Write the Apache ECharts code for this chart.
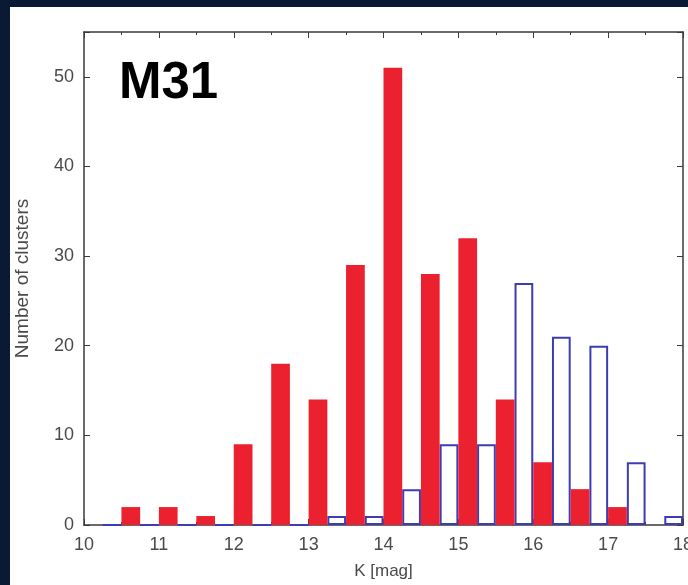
<!DOCTYPE html>
<html>
<head>
<meta charset="utf-8">
<script src="https://cdn.jsdelivr.net/npm/echarts@6/dist/echarts.min.js"></script>
<style>
  html, body { margin: 0; padding: 0; }
  body {
    width: 688px;
    height: 585px;
    overflow: hidden;
    background: #0a1a35;
    position: relative;
  }
  .panel {
    position: absolute;
    left: 10px;
    top: 7px;
    right: 0;
    bottom: 0;
    background: #ffffff;
  }
  #hist {
    position: absolute;
    left: 0;
    top: 0;
    width: 688px;
    height: 585px;
  }
</style>
</head>
<body>
<div class="panel"></div>
<div id="hist"></div>
<script>
// K-band slots of 0.25 mag, 10.00 .. 17.75
const kSlots = [
  "10.00", "10.25", "10.50", "10.75", "11.00", "11.25", "11.50", "11.75",
  "12.00", "12.25", "12.50", "12.75", "13.00", "13.25", "13.50", "13.75",
  "14.00", "14.25", "14.50", "14.75", "15.00", "15.25", "15.50", "15.75",
  "16.00", "16.25", "16.50", "16.75", "17.00", "17.25", "17.50", "17.75"
];
// filled red histogram
const redCounts = [
  "-", "-", 2, "-", 2, "-", 1, "-",
  9, "-", 18, "-", 14, "-", 29, "-",
  51, "-", 28, "-", 32, "-", 14, "-",
  7, "-", 4, "-", 2, "-", "-", "-"
];
// open blue histogram
const blueCounts = [
  "-", 0, "-", 0, "-", 0, "-", 0,
  "-", 0, "-", 0, "-", 1, "-", 1,
  "-", 4, "-", 9, "-", 9, "-", 27,
  "-", 21, "-", 20, "-", 7, "-", 1
];
const kRange = [10, 18];
const countRange = [0, 55];

const FONT = "'Liberation Sans', Arial, Helvetica, sans-serif";
const frameColor = "#3a3a3a";
const labelColor = "#4a4a4a";

const chart = echarts.init(document.getElementById("hist"));

const frameX = (pos, showLabel) => ({
  type: "value",
  position: pos,
  min: kRange[0],
  max: kRange[1],
  interval: 1,
  axisLine: { show: true, onZero: false, lineStyle: { color: frameColor, width: 1.5 } },
  axisTick: { show: true, inside: true, length: 6, lineStyle: { color: frameColor } },
  minorTick: { show: true, splitNumber: 2, length: 3, lineStyle: { color: frameColor } },
  splitLine: { show: false },
  axisLabel: {
    show: showLabel,
    margin: 11,
    fontSize: 18,
    color: labelColor,
    fontFamily: FONT
  }
});

const frameY = (pos, showLabel) => ({
  type: "value",
  position: pos,
  min: countRange[0],
  max: countRange[1],
  interval: 10,
  axisLine: { show: true, lineStyle: { color: frameColor, width: 1.5 } },
  axisTick: { show: true, inside: true, length: 6, lineStyle: { color: frameColor } },
  splitLine: { show: false },
  axisLabel: {
    show: showLabel,
    margin: 10,
    fontSize: 18,
    color: labelColor,
    fontFamily: FONT,
    formatter: (v) => (v % 10 === 0 ? String(v) : "")
  }
});

const xBottom = frameX("bottom", true);
xBottom.name = "K [mag]";
xBottom.nameLocation = "middle";
xBottom.nameGap = 38;
xBottom.nameTextStyle = { fontSize: 17, color: labelColor, fontFamily: FONT };

const yLeft = frameY("left", true);
yLeft.name = "Number of clusters";
yLeft.nameLocation = "middle";
yLeft.nameGap = 52;
yLeft.nameTextStyle = { fontSize: 19, color: labelColor, fontFamily: FONT };

const option = {
  backgroundColor: "transparent",
  animation: false,
  title: {
    text: "M31",
    left: 119,
    top: 58,
    padding: 0,
    textStyle: { fontSize: 51, fontWeight: "bold", color: "#000", fontFamily: FONT }
  },
  grid: { left: 84, right: 5, top: 32, bottom: 60, outerBoundsMode: "none", containLabel: false },
  xAxis: [
    xBottom,
    frameX("top", false),
    {
      type: "category",
      data: kSlots,
      show: false,
      boundaryGap: true
    }
  ],
  yAxis: [yLeft, frameY("right", false)],
  series: [
    {
      name: "open",
      type: "bar",
      xAxisIndex: 2,
      yAxisIndex: 0,
      barWidth: "100%",
      barGap: "-100%",
      data: blueCounts,
      itemStyle: {
        color: "rgba(255,255,255,0)",
        borderColor: "#3d3db3",
        borderWidth: 2
      }
    },
    {
      name: "filled",
      type: "bar",
      xAxisIndex: 2,
      yAxisIndex: 0,
      barWidth: "100%",
      barGap: "-100%",
      data: redCounts,
      itemStyle: { color: "#ec2130" }
    }
  ]
};

chart.setOption(option);
</script>
</body>
</html>
